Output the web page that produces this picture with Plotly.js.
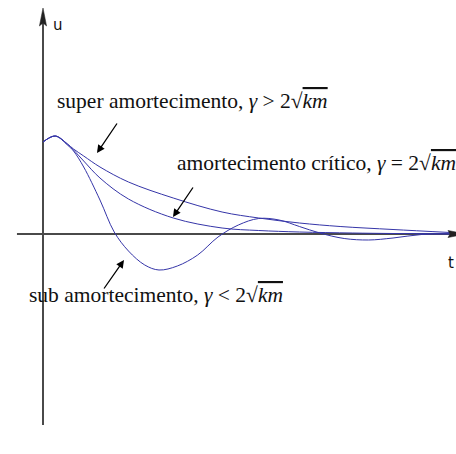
<!DOCTYPE html>
<html>
<head>
<meta charset="utf-8">
<script src="https://cdn.plot.ly/plotly-3.0.1.min.js"></script>
<style>
  html, body { margin: 0; padding: 0; background: #fff; }
  #plot { width: 456px; height: 454px; }
</style>
</head>
<body>
<div id="plot"></div>
<script>
// Free response u(t) of a damped oscillator, three damping regimes.
const tSub  = [0, 0.3, 0.6, 0.75, 1.0, 1.4, 1.75, 2.1, 2.5, 2.85, 3.3, 3.8, 4.3, 4.8, 5.3, 5.8, 6.3, 6.8, 7.4, 8.0, 8.6, 9.3, 10];
const uSub  = [0.92, 0.98, 0.89, 0.83, 0.67, 0.34, 0.02, -0.17, -0.31, -0.36, -0.32, -0.21, -0.03, 0.09, 0.155, 0.14, 0.075, 0.01, -0.045, -0.06, -0.04, -0.005, 0];

const tCrit = [0, 0.3, 0.6, 0.75, 1.0, 1.4, 2.1, 3.2, 4.4, 5.3, 6.3, 7.6, 8.6, 10];
const uCrit = [0.92, 0.98, 0.9, 0.84, 0.73, 0.56, 0.35, 0.16, 0.06, 0.035, 0.02, 0.01, 0.005, 0.003];

const tOver = [0, 0.3, 0.6, 0.75, 1.0, 1.4, 2.1, 3.2, 4.4, 5.3, 6.3, 7.3, 8.6, 10];
const uOver = [0.92, 0.98, 0.9, 0.85, 0.78, 0.67, 0.52, 0.36, 0.22, 0.16, 0.11, 0.075, 0.045, 0.015];

const sqrtKm = '2√<span style="text-decoration:overline"><i>km</i></span>';
const labels = {
  over: 'super amortecimento, <i>γ</i> &gt; ' + sqrtKm,
  crit: 'amortecimento crítico, <i>γ</i> = ' + sqrtKm,
  sub:  'sub amortecimento, <i>γ</i> &lt; ' + sqrtKm
};

const curveColor = '#3535a8';
const curve = (t, u) => ({
  x: t, y: u, mode: 'lines', type: 'scatter',
  line: { color: curveColor, width: 1, shape: 'spline', smoothing: 1 },
  hoverinfo: 'skip', showlegend: false
});

const serif = { family: 'Liberation Serif, serif', size: 21.5, color: '#111' };
const sans  = { family: 'DejaVu Sans, sans-serif', size: 15, color: '#111' };
const axisColor = '#4a4a4a';

// pointer: tail (ax, ay) -> head (x, y), both in data units
const arrow = (ax, ay, x, y) => ({
  x: x, y: y, ax: ax, ay: ay, xref: 'x', yref: 'y', axref: 'x', ayref: 'y',
  text: '', showarrow: true, arrowhead: 2, arrowsize: 1.2, arrowwidth: 1.3,
  arrowcolor: '#000', standoff: 0, startstandoff: 0
});

// axis line
const axisLine = (x0, y0, x1, y1) => ({
  type: 'line', xref: 'x', yref: 'y', x0: x0, y0: y0, x1: x1, y1: y1,
  line: { color: axisColor, width: 2 }, layer: 'below'
});

const layout = {
  width: 456, height: 454,
  margin: { l: 0, r: 0, t: 0, b: 0 },
  paper_bgcolor: '#fff', plot_bgcolor: '#fff',
  xaxis: { range: [-1.0565, 10.147], visible: false, fixedrange: true },
  yaxis: { range: [-2.2, 2.34], visible: false, fixedrange: true },
  shapes: [
    axisLine(-0.64, 0, 10.0, 0),
    axisLine(0, -1.91, 0, 2.12),
    // long narrow arrowheads on the axes
    { type: 'path', xref: 'x', yref: 'y', layer: 'above',
      path: 'M 0 2.26 L -0.088 2.08 L 0 2.11 L 0.088 2.08 Z',
      fillcolor: '#222', line: { color: '#222', width: 0.5 } },
    { type: 'path', xref: 'x', yref: 'y', layer: 'above',
      path: 'M 10.37 0 L 9.95 0.036 L 10.0 0 L 9.95 -0.036 Z',
      fillcolor: '#222', line: { color: '#222', width: 0.5 } }
  ],
  annotations: [
    { x: 0.2, y: 2.09, xref: 'x', yref: 'y', text: 'u', showarrow: false,
      xanchor: 'left', yanchor: 'middle', font: sans },
    { x: 9.9, y: -0.29, xref: 'x', yref: 'y', text: 't', showarrow: false,
      xanchor: 'left', yanchor: 'middle', font: sans },
    { x: 0.295, y: 1.335, xref: 'x', yref: 'y', text: labels.over, showarrow: false,
      xanchor: 'left', yanchor: 'middle', font: serif },
    arrow(1.843, 1.12, 1.327, 0.81),
    { x: 3.24, y: 0.715, xref: 'x', yref: 'y', text: labels.crit, showarrow: false,
      xanchor: 'left', yanchor: 'middle', font: serif },
    arrow(3.71, 0.48, 3.194, 0.17),
    { x: -0.39, y: -0.605, xref: 'x', yref: 'y', text: labels.sub, showarrow: false,
      xanchor: 'left', yanchor: 'middle', font: serif },
    arrow(1.474, -0.56, 1.99, -0.26)
  ]
};

Plotly.newPlot('plot', [curve(tOver, uOver), curve(tCrit, uCrit), curve(tSub, uSub)], layout,
  { staticPlot: true, displayModeBar: false });
</script>
</body>
</html>
